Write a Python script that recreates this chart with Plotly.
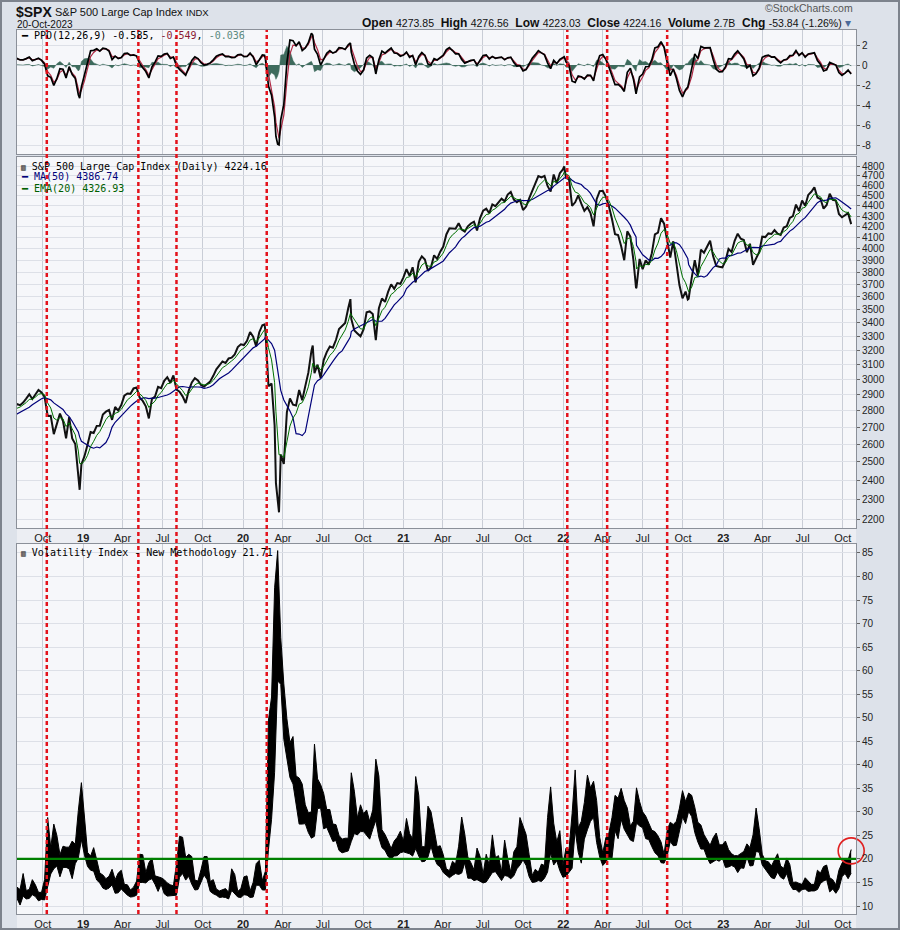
import numpy as np
import pandas as pd
import plotly.graph_objects as go

# $SPX weekly closes (Fridays), 2018-05-25 .. 2023-10-20
spx_2018 = [2721, 2735, 2779, 2780, 2755, 2718, 2760, 2801, 2802, 2819,
            2840, 2833, 2850, 2875, 2902, 2872, 2905, 2930, 2914, 2886,
            2767, 2768, 2658, 2723, 2781, 2736, 2633, 2760, 2633, 2600, 2417, 2486]
spx_2019 = [2532, 2596, 2671, 2665, 2707, 2708, 2776, 2793, 2804, 2743, 2822, 2800, 2834,
            2893, 2907, 2905, 2940, 2946, 2881, 2860, 2826, 2752, 2873, 2887, 2950, 2942,
            2990, 3014, 2977, 3026, 2932, 2919, 2889, 2847, 2926, 2979, 3007, 2992, 2962,
            2952, 2970, 2986, 3023, 3067, 3093, 3120, 3110, 3141, 3146, 3169, 3221, 3240]
spx_2020 = [3235, 3265, 3330, 3295, 3226, 3328, 3380, 3338, 2954, 2972, 2711, 2305, 2541,
            2489, 2790, 2875, 2837, 2831, 2930, 2864, 2955, 3044, 3194, 3041, 3098, 3009,
            3130, 3185, 3225, 3216, 3271, 3351, 3373, 3397, 3508, 3427, 3341, 3319, 3298,
            3348, 3477, 3484, 3465, 3270, 3509, 3585, 3558, 3638, 3699, 3663, 3709, 3703]
spx_2021 = [3756, 3825, 3768, 3841, 3714, 3887, 3934, 3907, 3811, 3842, 3943, 3913, 3975,
            4020, 4129, 4185, 4180, 4181, 4233, 4174, 4156, 4204, 4230, 4247, 4166, 4281,
            4352, 4370, 4327, 4412, 4395, 4437, 4468, 4442, 4509, 4535, 4459, 4433, 4455,
            4357, 4391, 4471, 4545, 4605, 4697, 4682, 4698, 4595, 4538, 4712, 4620, 4726, 4766]
spx_2022 = [4677, 4663, 4398, 4432, 4501, 4419, 4349, 4385, 4329, 4204, 4463, 4543,
            4546, 4488, 4393, 4272, 4132, 4123, 4023, 3901, 4158, 4109, 3901, 3675, 3912,
            3825, 3899, 3863, 3962, 4130, 4145, 4280, 4228, 4058, 3924, 4067, 3873, 3693, 3586,
            3640, 3583, 3752, 3901, 3771, 3993, 3965, 4026, 4072, 3934, 3852, 3845, 3840]
spx_2023 = [3895, 3999, 3973, 4071, 4136, 4090, 4079, 3970, 4045, 3862, 3917, 3971, 4109,
            4105, 4138, 4133, 4169, 4136, 4124, 4192, 4205, 4282, 4299, 4410, 4348, 4450,
            4399, 4505, 4536, 4582, 4478, 4464, 4370, 4406, 4516, 4457, 4450, 4320, 4288,
            4309, 4327, 4224]
spx_close = spx_2018 + spx_2019 + spx_2020 + spx_2021 + spx_2022 + spx_2023
spx_dates = pd.date_range(end="2023-10-20", periods=len(spx_close), freq="W-FRI")

# daily closes at the turning points, so the dips and peaks reach their depth
spx_key_dates = ["2018-12-24", "2020-02-19", "2020-03-16", "2020-03-23", "2020-06-08",
                 "2020-09-02", "2022-01-03", "2022-06-16", "2022-10-12"]
spx_key_close = [2351, 3386, 2386, 2237, 3232, 3580, 4797, 3667, 3577]

# VIX weekly high / low, 2018-08-03 .. 2023-10-20
vix_high = [14.0, 13.5, 16.9, 13.3, 13.5, 15.6, 14.5, 12.9, 12.9, 15.6, 28.8, 22.4, 27.4,
            25.0, 20.9, 22.7, 22.5, 22.5, 23.8, 23.1, 30.3, 36.2,
            28.9, 21.4, 20.6, 22.4, 19.8, 17.0, 16.6, 15.8, 16.3, 17.8, 15.6, 17.0, 17.6,
            14.6, 14.5, 13.4, 14.0, 15.3, 21.0, 20.9, 17.1, 19.2, 20.2, 16.4, 16.2, 16.0,
            15.6, 14.9, 14.5, 14.3, 18.9, 24.8, 24.6, 20.3, 21.0, 20.5, 15.5, 15.3, 17.7,
            20.5, 20.5, 15.2, 15.6, 13.6, 13.2, 13.4, 13.7, 12.9, 17.9, 16.7, 13.1, 13.7,
            16.2, 16.4, 13.2, 15.0, 19.0, 19.7, 15.4, 17.4, 49.5, 54.4, 77.6, 85.5, 67.0,
            57.2, 49.8, 44.7, 46.0, 37.6, 37.2, 35.9, 31.5, 29.8, 30.0, 44.4, 37.0, 35.8,
            33.9, 30.5, 30.5, 27.4, 27.3, 25.0, 24.2, 24.4, 24.4, 38.3, 34.4, 28.7, 31.5,
            29.6, 30.4, 28.0, 30.4, 41.2, 37.6, 26.2, 25.2, 23.8, 22.2, 23.8, 24.6, 25.9, 23.8,
            28.6, 25.4, 24.3, 37.5, 33.5, 22.6, 22.6, 31.2, 30.0, 26.6, 22.6, 22.8,
            20.9, 17.9, 17.5, 19.5, 18.9, 22.7, 28.9, 25.3, 20.4, 19.2, 17.7, 22.3, 20.5,
            16.8, 21.0, 18.7, 25.1, 20.3, 20.7, 17.2, 24.0, 20.1, 17.2, 21.5, 22.6, 28.8,
            26.9, 25.2, 20.9, 16.5, 17.8, 17.2, 18.9, 18.6, 28.8, 35.3, 27.6, 23.6, 26.0, 18.6,
            22.3, 22.0, 29.6, 38.9, 26.6, 28.0, 32.0, 37.8, 35.1, 36.5, 32.4, 24.6,
            21.3, 24.5, 25.5, 28.8, 33.5, 32.9, 35.0, 32.4, 30.8, 27.0, 28.0, 35.1, 32.2,
            30.0, 29.1, 27.7, 26.1, 25.8, 24.9, 23.6, 21.0, 26.1, 27.8, 27.3, 28.0, 30.8, 34.5,
            32.2, 34.0, 33.5, 31.0, 27.8, 27.2, 25.2, 24.1, 22.9, 24.5, 25.5, 23.0, 23.0,
            23.8, 22.0, 21.1, 20.7, 20.7, 21.2, 21.6, 23.2, 22.4, 25.1, 30.8, 26.4, 21.0,
            19.6, 19.4, 18.5, 19.8, 21.1, 18.5, 18.0, 20.2, 18.8, 15.0, 15.1, 14.8, 14.6,
            16.0, 15.3, 14.6, 14.6, 17.6, 17.0, 18.4, 18.7, 16.0, 15.6, 14.5, 17.6, 19.1,
            20.0, 19.8, 22.0]
vix_low = [11.6, 10.2, 12.1, 11.5, 11.6, 12.4, 12.0, 11.1, 11.4, 11.3, 14.1, 16.8, 17.9,
           18.5, 16.2, 18.2, 18.2, 17.9, 15.8, 19.0, 20.2, 24.1,
           20.8, 18.4, 17.6, 17.4, 15.5, 14.9, 13.8, 13.5, 13.8, 14.5, 12.7, 12.8, 13.6,
           12.9, 12.3, 11.9, 12.0, 12.3, 15.0, 15.0, 14.9, 15.5, 15.8, 14.6, 13.1, 14.6,
           12.6, 12.1, 12.2, 12.3, 12.3, 16.1, 16.9, 15.5, 16.3, 14.6, 13.4, 13.5, 14.9,
           16.6, 15.6, 13.1, 12.6, 12.3, 11.8, 11.9, 11.8, 11.5, 13.3, 12.6, 11.9, 11.8,
           12.4, 12.3, 11.8, 11.9, 14.4, 14.4, 13.4, 13.4, 22.0, 28.4, 38.4, 57.8, 57.1,
           45.4, 41.2, 37.3, 35.9, 31.2, 27.4, 27.4, 27.5, 25.6, 24.4, 24.8, 30.7, 30.8,
           26.4, 26.7, 25.3, 23.7, 23.9, 21.8, 21.3, 21.5, 21.7, 23.7, 25.4, 25.1, 25.8,
           25.8, 24.9, 24.2, 26.3, 28.2, 24.5, 22.4, 21.8, 20.5, 20.0, 20.6, 20.7, 21.3, 21.5,
           21.3, 21.1, 20.6, 22.2, 20.6, 19.4, 19.5, 20.4, 22.7, 20.3, 18.8, 18.3,
           17.1, 16.6, 16.0, 16.5, 16.9, 16.7, 17.0, 19.2, 15.9, 15.9, 15.4, 15.6, 15.2,
           14.9, 15.1, 16.0, 17.1, 17.3, 16.2, 15.4, 16.5, 16.3, 15.8, 16.4, 17.9, 18.7,
           19.8, 18.6, 16.2, 15.0, 15.1, 15.4, 15.2, 15.9, 17.2, 21.3, 18.7, 19.6, 17.5, 16.1,
           16.3, 17.2, 18.0, 26.2, 21.4, 19.1, 24.2, 26.2, 28.0, 28.8, 23.5, 20.4,
           18.6, 19.3, 20.4, 20.1, 26.0, 24.3, 28.4, 26.3, 25.0, 24.0, 23.7, 27.6, 27.0,
           26.6, 24.3, 24.1, 22.6, 21.3, 20.7, 19.2, 19.1, 20.6, 23.7, 22.8, 22.9, 25.6, 28.9,
           27.5, 30.1, 29.0, 25.6, 23.6, 22.1, 22.1, 20.3, 19.0, 19.4, 19.8, 19.5, 20.2,
           18.2, 18.3, 18.6, 18.3, 17.1, 18.1, 18.0, 20.4, 18.5, 18.6, 21.6, 21.4, 18.7,
           17.8, 16.9, 16.0, 15.8, 17.2, 16.1, 15.7, 16.9, 14.6, 13.5, 13.5, 12.9, 13.5,
           13.6, 13.1, 13.2, 13.2, 13.5, 14.8, 15.3, 15.6, 13.0, 13.6, 12.7, 13.7, 16.2,
           16.9, 15.8, 17.0]
vix_dates = pd.date_range(end="2023-10-20", periods=len(vix_high), freq="W-FRI")

# days the VIX closed back above 20 (red dashed markers)
signal_dates = ["2018-10-10", "2019-05-07", "2019-08-02", "2020-02-24",
                "2022-01-10", "2022-04-11", "2022-08-26"]
vix_level = 20

# values printed in the header and legends
quote = {"Open": "4273.85", "High": "4276.56", "Low": "4223.03", "Close": "4224.16",
         "Volume": "2.7B", "Chg": "-53.84 (-1.26%)"}
ppo_last = ["-0.585", "-0.549", "-0.036"]
spx_last = "4224.16"
ma50_last = "4386.74"
ema20_last = "4326.93"
vix_last = 21.71

x_start, x_end = "2018-08-03", "2023-10-31"
x_ticks = pd.date_range("2018-10-01", "2023-10-01", freq="QS")
x_text = [f"<b>{d:%y}</b>" if d.month == 1 else f"{d:%b}" for d in x_ticks]

# --- indicators (MA50, EMA20, PPO 12/26/9) from the closes ---------------
close = pd.concat([pd.Series(spx_close, index=spx_dates),
                   pd.Series(spx_key_close, index=pd.to_datetime(spx_key_dates))]
                  ).sort_index().astype(float)
t = close.index


def ema(s, span):
    # span is in trading days; convert to a calendar half-life for uneven sampling
    hl = 1.4 * np.log(0.5) / np.log(1 - 2 / (span + 1))
    return s.ewm(halflife=pd.Timedelta(days=hl), times=t).mean()


ma50 = close.rolling("70D").mean()
ema20 = ema(close, 20)
ppo = (ema(close, 12) - ema(close, 26)) / ema(close, 26) * 100
ppo_sig = ema(ppo, 9)
ppo_hist = ppo - ppo_sig

# --- figure ---------------------------------------------------------------
W, H = 900, 930
L, R, T, B = 17, 856, 30, 914


def dom(top, bottom):
    return [(B - bottom) / (B - T), (B - top) / (B - T)]


def pp(x, y):
    return (x - L) / (R - L), (B - y) / (B - T)


fig = go.Figure()

fig.add_trace(go.Scatter(x=t, y=ppo_hist, mode="lines", fill="tozeroy",
                         line=dict(color="#3d6a5c", width=0.5), fillcolor="#3d6a5c",
                         xaxis="x", yaxis="y"))
fig.add_trace(go.Scatter(x=t, y=ppo_sig, mode="lines", line=dict(color="#b02a45", width=1.2),
                         xaxis="x", yaxis="y"))
fig.add_trace(go.Scatter(x=t, y=ppo, mode="lines", line=dict(color="black", width=1.7),
                         xaxis="x", yaxis="y"))

fig.add_trace(go.Scatter(x=t, y=close, mode="lines", line=dict(color="#111111", width=2),
                         xaxis="x2", yaxis="y2"))
fig.add_trace(go.Scatter(x=t, y=ma50, mode="lines", line=dict(color="#00007a", width=1.2),
                         xaxis="x2", yaxis="y2"))
fig.add_trace(go.Scatter(x=t, y=ema20, mode="lines", line=dict(color="#007000", width=1),
                         xaxis="x2", yaxis="y2"))

# VIX: weekly high-low range as a filled black band
fig.add_trace(go.Scatter(x=vix_dates, y=vix_high, mode="lines",
                         line=dict(color="black", width=1), xaxis="x3", yaxis="y3"))
fig.add_trace(go.Scatter(x=vix_dates, y=vix_low, mode="lines", fill="tonexty",
                         fillcolor="black", line=dict(color="black", width=1),
                         xaxis="x3", yaxis="y3"))
fig.add_trace(go.Scatter(x=[vix_dates[-1]], y=[vix_last], mode="markers", cliponaxis=False,
                         marker=dict(symbol="circle-open", size=26, color="#e02020",
                                     line=dict(width=1.6, color="#e02020")),
                         xaxis="x3", yaxis="y3"))

tick_font = dict(family="Liberation Sans, Arial, sans-serif", size=11, color="#222")
common_x = dict(type="date", range=[x_start, x_end], tickvals=x_ticks, ticktext=x_text,
                showgrid=True, gridcolor="#c9cdd6", gridwidth=1, zeroline=False,
                showline=True, linecolor="#8b9099", mirror=True, ticks="",
                tickfont=tick_font, automargin=False)
common_y = dict(side="right", showgrid=True, gridcolor="#dde0e7", zeroline=False,
                showline=True, linecolor="#8b9099", mirror=True, ticks="outside",
                ticklen=3, tickcolor="#666", tickfont=dict(tick_font, size=10),
                automargin=False)

ppo_ticks = [2, 0, -2, -4, -6, -8]
price_ticks = list(range(2200, 4900, 100))
vix_ticks = list(range(10, 90, 5))

shapes = []
# lighter strips behind the date labels
for top, bot in [(528, 544), (914, 929)]:
    x0, y0 = pp(L, bot)
    x1, y1 = pp(R, top)
    shapes.append(dict(type="rect", xref="paper", yref="paper", x0=x0, x1=x1, y0=y0, y1=y1,
                       fillcolor="#eceef3", line=dict(width=0), layer="below"))
for d in signal_dates:
    shapes.append(dict(type="line", xref="x", yref="paper", x0=d, x1=d, y0=0, y1=1,
                       line=dict(color="#e3121b", width=2.5, dash="4px,3px")))
shapes.append(dict(type="line", xref="x3 domain", yref="y3", x0=0, x1=1,
                   y0=vix_level, y1=vix_level, line=dict(color="#008000", width=2.2)))
fx0, fy0 = pp(1, 929)
fx1, fy1 = pp(899, 1)
shapes.append(dict(type="rect", xref="paper", yref="paper", x0=fx0, x1=fx1, y0=fy0, y1=fy1,
                   line=dict(color="#7d838d", width=2)))

hdr = "Liberation Sans, Arial, sans-serif"
mono = "DejaVu Sans Mono, monospace"
annotations = []


def note(x, y, text, size, color="#111", family=hdr, anchor="left"):
    ax, ay = pp(x, y)
    annotations.append(dict(x=ax, y=ay, xref="paper", yref="paper", text=text,
                            showarrow=False, xanchor=anchor, yanchor="middle",
                            font=dict(family=family, size=size, color=color)))


note(14, 12, "<b>$SPX</b>", 14)
note(53, 12, "S&P 500 Large Cap Index", 11)
note(184, 12, "INDX", 9.5)
note(15, 24, "20-Oct-2023", 10)
note(855, 8, "©StockCharts.com", 10.5, color="#555", anchor="right")
quote_text = "  ".join(f"<b>{k}</b> <span style='font-size:10.5px'>{v}</span>"
                       for k, v in quote.items())
note(853, 23, quote_text + " <span style='color:#4a6a9a'>▾</span>", 12, anchor="right")

note(19, 36, f"━ PPO(12,26,9) {ppo_last[0]}, <span style='color:#8b1a33'>{ppo_last[1]}</span>, "
             f"<span style='color:#5b8a80'>{ppo_last[2]}</span>", 10, color="black", family=mono)
note(19, 166, f"<span style='font-size:8px'>▥</span> S&P 500 Large Cap Index (Daily) {spx_last}",
     10, color="black", family=mono)
note(19, 177, f"━ MA(50) {ma50_last}", 10, color="#00007a", family=mono)
note(19, 188, f"━ EMA(20) {ema20_last}", 10, color="#006000", family=mono)
note(19, 552, f"<span style='font-size:8px'>▥</span> Volatility Index - New Methodology {vix_last}",
     10, color="black", family=mono)

fig.update_layout(
    width=W, height=H, template="none", showlegend=False,
    margin=dict(l=L, r=W - R, t=T, b=H - B),
    paper_bgcolor="#dde2ea", plot_bgcolor="#f6f7fa",
    xaxis=dict(common_x, anchor="y", showticklabels=False),
    xaxis2=dict(common_x, anchor="y2", showticklabels=True),
    xaxis3=dict(common_x, anchor="y3", showticklabels=True),
    yaxis=dict(common_y, domain=dom(30, 154), range=[-8.9, 3.5],
               tickvals=ppo_ticks, ticktext=[str(v) for v in ppo_ticks]),
    yaxis2=dict(common_y, domain=dom(157, 528), type="log",
                range=[np.log10(2161), np.log10(4898)], tickvals=price_ticks),
    yaxis3=dict(common_y, domain=dom(544, 914), range=[8.3, 86.9], tickvals=vix_ticks),
    shapes=shapes, annotations=annotations,
)

# the page's default body margin would push the 900x930 figure out of the window
fig.write_html("out.html", config={"displayModeBar": False},
               post_script="document.body.style.margin='0';")
